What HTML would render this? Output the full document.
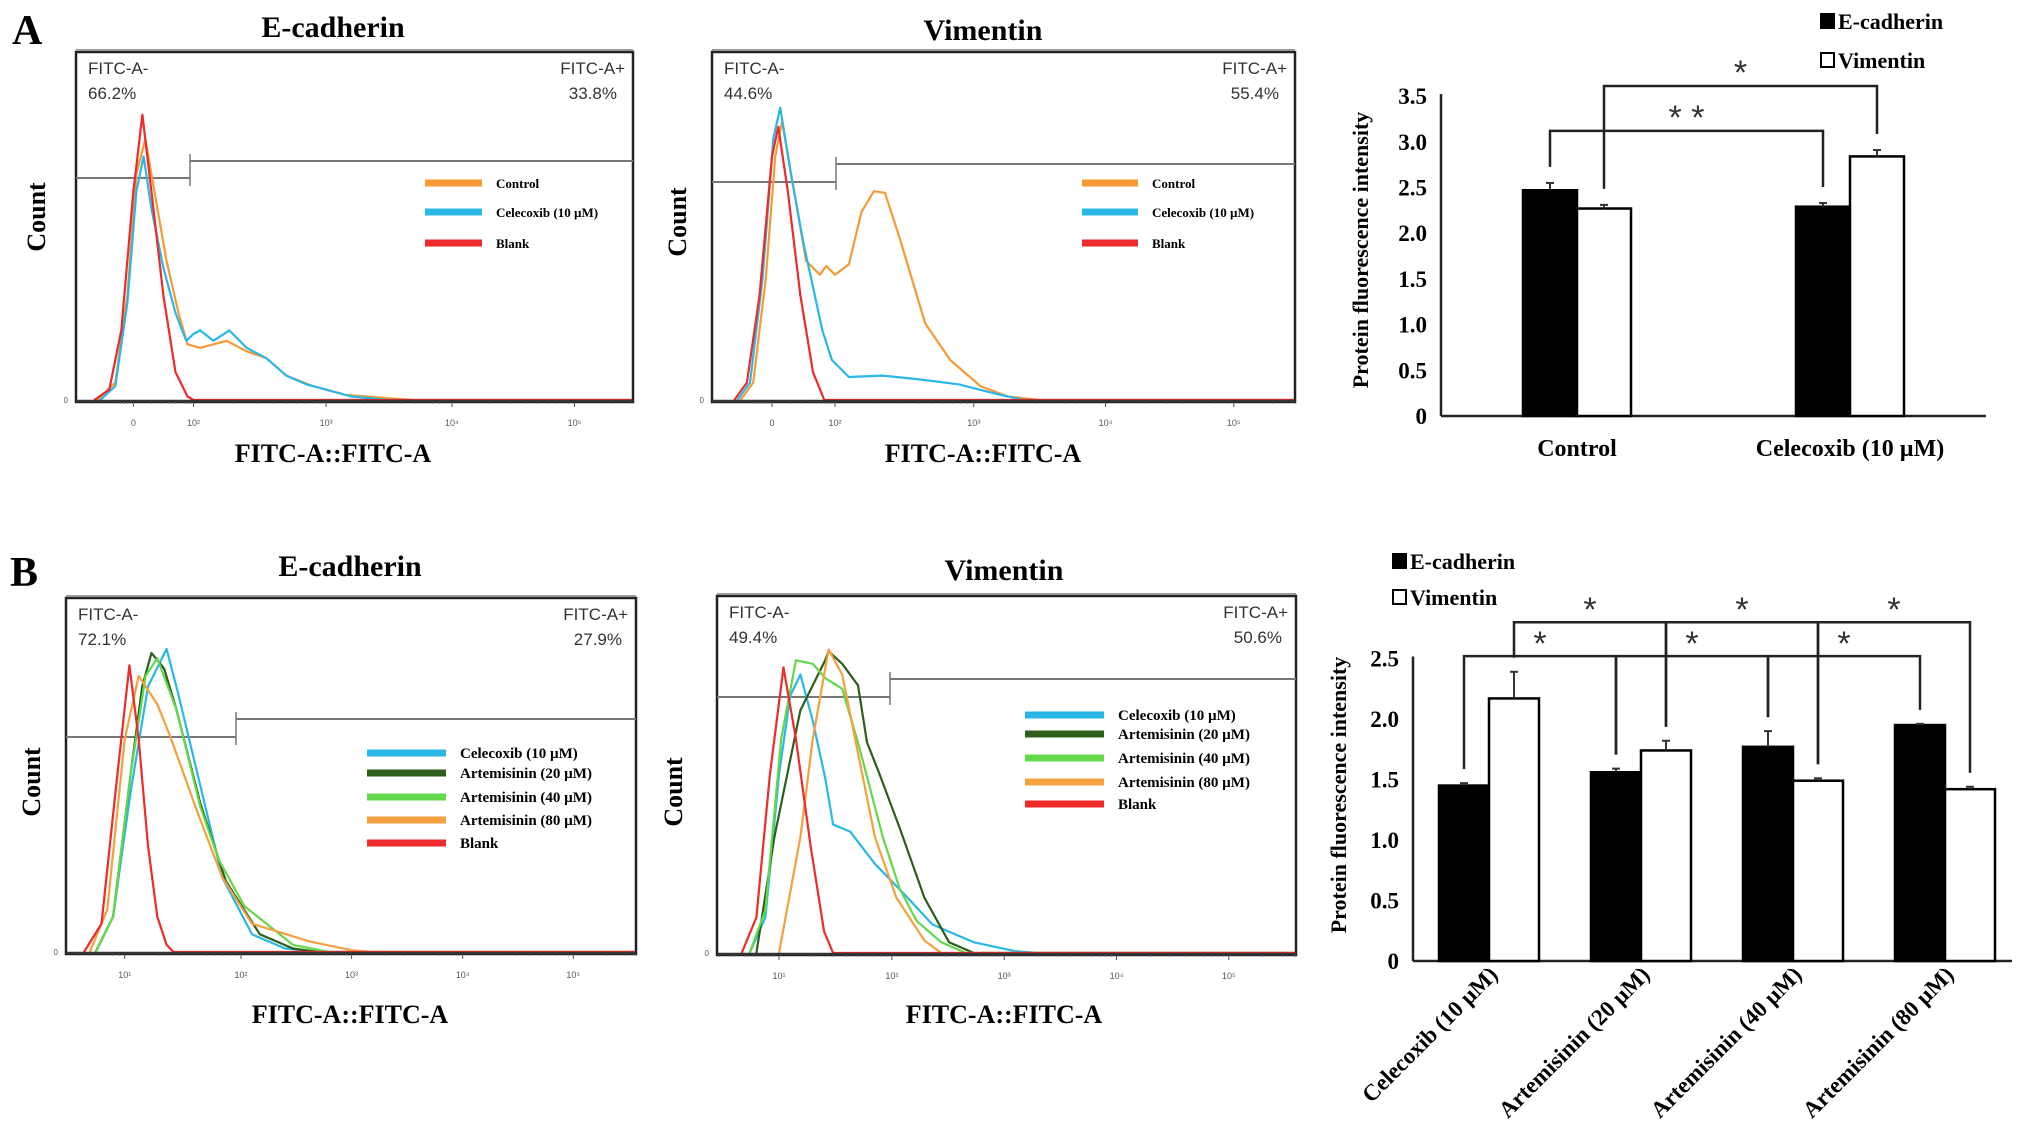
<!DOCTYPE html>
<html><head><meta charset="utf-8"><style>
html,body{margin:0;padding:0;background:#fff;}
svg{display:block;}
.serif{font-family:"Liberation Serif",serif;font-weight:bold;}
.sans{font-family:"Liberation Sans",sans-serif;}
</style></head><body>
<svg id="fig" width="2031" height="1137" viewBox="0 0 2031 1137" xmlns="http://www.w3.org/2000/svg">
<rect x="0" y="0" width="2031" height="1137" fill="#fff"/>
<text x="12" y="44" class="serif" font-size="42">A</text>
<text x="10" y="586" class="serif" font-size="42">B</text>
</svg>
<script>
// ---------- histogram data: [axis unit, relative count] ----------
const aEcadRed=[[-0.65,0],[-0.4,0.03],[-0.2,0.2],[0,0.6],[0.15,0.82],[0.3,0.6],[0.5,0.3],[0.7,0.08],[0.9,0.01],[1.0,0],[4.6,0]];
const aEcadOrange=[[-0.6,0],[-0.3,0.05],[-0.1,0.3],[0.05,0.65],[0.2,0.75],[0.35,0.6],[0.55,0.4],[0.75,0.25],[0.9,0.16],[1.05,0.15],[1.25,0.17],[1.4,0.14],[1.55,0.12],[1.7,0.07],[1.9,0.04],[2.15,0.015],[2.5,0.005],[2.7,0],[4.6,0]];
const aEcadCyan=[[-0.55,0],[-0.3,0.04],[-0.1,0.28],[0.05,0.6],[0.17,0.7],[0.3,0.55],[0.5,0.38],[0.7,0.25],[0.88,0.17],[1.0,0.19],[1.05,0.2],[1.15,0.17],[1.27,0.2],[1.4,0.15],[1.55,0.12],[1.7,0.07],[1.85,0.045],[2.0,0.03],[2.2,0.01],[2.5,0],[4.6,0]];
const aVimRed=[[-0.6,0],[-0.4,0.05],[-0.2,0.3],[0,0.7],[0.1,0.785],[0.25,0.6],[0.45,0.3],[0.65,0.08],[0.83,0],[4.6,0]];
const aVimCyan=[[-0.55,0],[-0.35,0.05],[-0.15,0.35],[0.02,0.75],[0.13,0.84],[0.3,0.65],[0.5,0.45],[0.62,0.35],[0.8,0.2],[0.95,0.115],[1.1,0.066],[1.34,0.07],[1.59,0.06],[1.89,0.045],[2.2,0.015],[2.38,0],[4.6,0]];
const aVimOrange=[[-0.5,0],[-0.3,0.05],[-0.1,0.35],[0.05,0.7],[0.16,0.8],[0.35,0.6],[0.54,0.40],[0.76,0.36],[0.86,0.385],[1.0,0.36],[1.1,0.39],[1.19,0.54],[1.28,0.60],[1.36,0.595],[1.47,0.46],[1.65,0.22],[1.83,0.115],[2.05,0.04],[2.26,0.01],[2.5,0],[4.6,0]];
const bEcadRed=[[-0.35,0],[-0.2,0.08],[-0.08,0.45],[0.04,0.81],[0.12,0.6],[0.2,0.3],[0.28,0.1],[0.36,0.02],[0.42,0],[4.6,0]];
const bEcadCyan=[[-0.25,0],[-0.1,0.1],[0.05,0.45],[0.2,0.75],[0.36,0.856],[0.46,0.73],[0.65,0.47],[0.84,0.21],[1.1,0.05],[1.4,0.01],[1.7,0],[4.6,0]];
const bEcadDark=[[-0.25,0],[-0.1,0.1],[0.05,0.5],[0.15,0.75],[0.23,0.845],[0.34,0.8],[0.44,0.69],[0.65,0.42],[0.87,0.2],[1.17,0.05],[1.47,0.01],[1.7,0],[4.6,0]];
const bEcadLight=[[-0.25,0],[-0.1,0.1],[0.05,0.5],[0.18,0.78],[0.28,0.83],[0.45,0.68],[0.65,0.41],[0.81,0.26],[1.03,0.13],[1.47,0.02],[1.8,0],[4.6,0]];
const bEcadOrange=[[-0.3,0],[-0.15,0.12],[0.0,0.6],[0.12,0.78],[0.28,0.7],[0.39,0.61],[0.62,0.40],[0.84,0.21],[1.1,0.08],[1.62,0.03],[2.0,0.005],[2.2,0],[4.6,0]];
const bVimRed=[[-0.33,0],[-0.2,0.1],[-0.08,0.5],[0.04,0.80],[0.15,0.6],[0.28,0.3],[0.4,0.06],[0.48,0],[4.6,0]];
const bVimCyan=[[-0.26,0],[-0.12,0.1],[0.0,0.5],[0.1,0.72],[0.19,0.78],[0.3,0.65],[0.41,0.49],[0.48,0.36],[0.63,0.34],[0.85,0.25],[1.14,0.155],[1.36,0.08],[1.58,0.05],[1.73,0.03],[2.1,0.005],[2.3,0],[4.6,0]];
const bVimLight=[[-0.26,0],[-0.12,0.12],[0.02,0.6],[0.15,0.82],[0.3,0.81],[0.41,0.77],[0.56,0.74],[0.7,0.59],[0.92,0.325],[1.07,0.18],[1.22,0.09],[1.44,0.03],[1.66,0],[4.6,0]];
const bVimDark=[[-0.2,0],[-0.04,0.325],[0.19,0.68],[0.41,0.82],[0.44,0.845],[0.56,0.81],[0.7,0.75],[0.78,0.59],[0.88,0.51],[1.07,0.35],[1.29,0.155],[1.51,0.03],[1.73,0],[4.6,0]];
const bVimOrange=[[0.0,0],[0.19,0.325],[0.3,0.6],[0.44,0.85],[0.56,0.78],[0.7,0.56],[0.85,0.325],[1.04,0.155],[1.29,0.035],[1.44,0],[4.6,0]];

// histogram axis ticks
const aTickLabels=["0","10²","10³","10⁴","10⁵"];
const bTickLabels=["10¹","10²","10³","10⁴","10⁵"];

// ---------- bar chart data ----------
const aCategories=["Control","Celecoxib (10 µM)"];
const aEcadValues=[2.47,2.29];
const aEcadErrors=[0.08,0.04];
const aVimValues=[2.27,2.84];
const aVimErrors=[0.04,0.07];
const aYTicks=["0","0.5","1.0","1.5","2.0","2.5","3.0","3.5"];
const aTickValues=[0,0.5,1,1.5,2,2.5,3,3.5];

const bCategories=["Celecoxib (10 µM)","Artemisinin (20 µM)","Artemisinin (40 µM)","Artemisinin (80 µM)"];
const bEcadValues=[1.45,1.56,1.77,1.95];
const bEcadErrors=[0.02,0.03,0.13,0.01];
const bVimValues=[2.17,1.74,1.49,1.42];
const bVimErrors=[0.22,0.08,0.02,0.02];
const bYTicks=["0","0.5","1.0","1.5","2.0","2.5"];
const bTickValues=[0,0.5,1,1.5,2,2.5];

const NS="http://www.w3.org/2000/svg";
const svg=document.getElementById('fig');
function mk(tag,attrs,parent,text){const e=document.createElementNS(NS,tag);for(const k in attrs)e.setAttribute(k,attrs[k]);if(text!==undefined)e.textContent=text;(parent||svg).appendChild(e);return e;}

function drawHist(cfg){
  const g=mk('g',{});
  
  
  const {x0,x1,top,base}=cfg;
  const W=x1-x0;
  function xs(u){
    const tf=cfg.tickF;let i=0;
    if(u<0)i=0;else if(u>=tf.length-1)i=tf.length-2;else i=Math.floor(u);
    const f=tf[i]+(tf[i+1]-tf[i])*(u-i);
    return Math.min(x1-1,Math.max(x0+1,x0+f*W));
  }
  function ys(h){return base-h*(base-top);}
  const t=mk('text',{x:cfg.titleX,y:cfg.titleY,'text-anchor':'middle','class':'serif','font-size':30},g,cfg.title);
  
  const bx=mk('rect',{x:x0,y:top,width:W,height:base-top+2,fill:'none',stroke:'#222','stroke-width':2.5},g);
  
  mk('line',{x1:x0,y1:top-2,x2:x1,y2:top-2,stroke:'#999','stroke-width':2},g);
  const tl=mk('text',{x:x0+12,y:top+22,'class':'sans','font-size':17,fill:'#333'},g,'FITC-A-');
  
  const tp=mk('text',{x:x0+12,y:top+47,'class':'sans','font-size':17,fill:'#333'},g,cfg.neg);
  
  const tr=mk('text',{x:x1-8,y:top+22,'class':'sans','font-size':17,fill:'#333','text-anchor':'end'},g,'FITC-A+');
  
  const trp=mk('text',{x:x1-8-(cfg.posShift||0),y:top+47,'class':'sans','font-size':17,fill:'#333','text-anchor':'end'},g,cfg.pos);
  
  const gx=cfg.gateX;
  mk('line',{x1:x0,y1:cfg.gateL,x2:gx,y2:cfg.gateL,stroke:'#777','stroke-width':2},g);
  mk('line',{x1:gx,y1:cfg.gateR,x2:x1,y2:cfg.gateR,stroke:'#777','stroke-width':2},g);
  mk('line',{x1:gx,y1:cfg.gateR-7,x2:gx,y2:cfg.gateL+8,stroke:'#777','stroke-width':1.5},g);
  for(let i=0;i<cfg.tickLabels.length;i++){
    const x=xs(i);
    const tx=mk('text',{x:x,y:base+26,'text-anchor':'middle','class':'sans','font-size':9,fill:'#555'},g,cfg.tickLabels[i]);
    
    mk('line',{x1:x,y1:base,x2:x,y2:base+7,stroke:'#555','stroke-width':1},g);
    for(let k=2;k<10;k++){const xm=xs(i+Math.log10(k));if(i<cfg.tickLabels.length-1||xm<x1)mk('line',{x1:xm,y1:base,x2:xm,y2:base+4,stroke:'#777','stroke-width':0.8},g);}
  }
  for(let k=2;k<10;k++){const xm=xs(-1+Math.log10(k));if(xm>x0+2)mk('line',{x1:xm,y1:base,x2:xm,y2:base+4,stroke:'#777','stroke-width':0.8},g);}
  mk('text',{x:x0-8,y:base+3,'class':'sans','font-size':8,fill:'#555','text-anchor':'end'},g,'0');
  cfg.series.forEach(s=>{
    const d=s.pts.map((p,i)=>(i?'L':'M')+xs(p[0]).toFixed(1)+','+ys(p[1]).toFixed(1)).join(' ');
    const p=mk('path',{d:d,fill:'none',stroke:s.color,'stroke-width':2.2,'stroke-linejoin':'round'},g);
    
    
  });
  mk('line',{x1:x0,y1:base+1,x2:x1,y2:base+1,stroke:'#333','stroke-width':2.5},g);
  cfg.series.slice().sort((a,b)=>a.li-b.li).forEach((s,i)=>{
    const y=cfg.legY[i];
    const ln=mk('line',{x1:cfg.legX,y1:y,x2:cfg.legX+cfg.legW,y2:y,stroke:s.color,'stroke-width':7},g);
    
    const lt=mk('text',{x:cfg.legX+cfg.legW+14,y:y+5,'class':'serif','font-size':cfg.legFont},g,s.label);
    
  });
  const xt=mk('text',{x:cfg.titleX,y:cfg.xTitleY,'text-anchor':'middle','class':'serif','font-size':26},g,'FITC-A::FITC-A');
  
  const yt=mk('text',{x:0,y:0,'text-anchor':'middle','class':'serif','font-size':26,transform:`translate(${cfg.countX},${cfg.countY}) rotate(-90)`},g,'Count');
  
}

const aTickF=[.103,.211,.449,.675,.895];
drawHist({name:'histogram-a-ecadherin',title:'E-cadherin',titleX:333,titleY:37,x0:76,x1:633,top:52,base:400,tickF:aTickF,tickLabels:aTickLabels,
  neg:'66.2%',pos:'33.8%',posShift:8,gateX:190,gateL:178,gateR:161,countX:45,countY:217,xTitleY:462,
  legX:425,legW:57,legY:[183,212,243],legFont:13,
  series:[{key:'control',color:'#f59a35',pts:aEcadOrange,label:'Control',li:0},{key:'celecoxib',color:'#29b8e6',pts:aEcadCyan,label:'Celecoxib (10 µM)',li:1},{key:'blank',color:'#ee2a2a',pts:aEcadRed,label:'Blank',li:2}]});
drawHist({name:'histogram-a-vimentin',title:'Vimentin',titleX:983,titleY:40,x0:712,x1:1295,top:52,base:400,tickF:aTickF,tickLabels:aTickLabels,
  neg:'44.6%',pos:'55.4%',posShift:8,gateX:836,gateL:182,gateR:164,countX:686,countY:222,xTitleY:462,
  legX:1082,legW:56,legY:[183,212,243],legFont:13,
  series:[{key:'control',color:'#f59a35',pts:aVimOrange,label:'Control',li:0},{key:'celecoxib',color:'#29b8e6',pts:aVimCyan,label:'Celecoxib (10 µM)',li:1},{key:'blank',color:'#ee2a2a',pts:aVimRed,label:'Blank',li:2}]});
const bTickF=[.103,.307,.501,.696,.89];
drawHist({name:'histogram-b-ecadherin',title:'E-cadherin',titleX:350,titleY:576,x0:66,x1:636,top:598,base:952,tickF:bTickF,tickLabels:bTickLabels,
  neg:'72.1%',pos:'27.9%',posShift:6,gateX:236,gateL:737,gateR:719,countX:40,countY:782,xTitleY:1023,
  legX:367,legW:79,legY:[753,773,797,820,843],legFont:15,
  series:[{key:'celecoxib',color:'#29b8e6',pts:bEcadCyan,label:'Celecoxib (10 µM)',li:0},{key:'art20',color:'#2d5e1c',pts:bEcadDark,label:'Artemisinin (20 µM)',li:1},{key:'art40',color:'#62d84a',pts:bEcadLight,label:'Artemisinin (40 µM)',li:2},{key:'art80',color:'#f5a040',pts:bEcadOrange,label:'Artemisinin (80 µM)',li:3},{key:'blank',color:'#ee2a2a',pts:bEcadRed,label:'Blank',li:4}]});
drawHist({name:'histogram-b-vimentin',title:'Vimentin',titleX:1004,titleY:580,x0:717,x1:1296,top:596,base:953,tickF:[.107,.302,.496,.69,.884],tickLabels:bTickLabels,
  neg:'49.4%',pos:'50.6%',posShift:6,gateX:890,gateL:697,gateR:679,countX:682,countY:792,xTitleY:1023,
  legX:1025,legW:79,legY:[715,734,758,782,804],legFont:15,
  series:[{key:'celecoxib',color:'#29b8e6',pts:bVimCyan,label:'Celecoxib (10 µM)',li:0},{key:'art20',color:'#2d5e1c',pts:bVimDark,label:'Artemisinin (20 µM)',li:1},{key:'art40',color:'#62d84a',pts:bVimLight,label:'Artemisinin (40 µM)',li:2},{key:'art80',color:'#f5a040',pts:bVimOrange,label:'Artemisinin (80 µM)',li:3},{key:'blank',color:'#ee2a2a',pts:bVimRed,label:'Blank',li:4}]});

function drawBars(cfg){
  const g=mk('g',{});
  
  
  const ys=v=>cfg.y0-v*cfg.ppu;
  const xc=i=>cfg.c0+i*cfg.step;
  mk('line',{x1:cfg.ax,y1:ys(cfg.yMax)-2,x2:cfg.ax,y2:cfg.y0,stroke:'#222','stroke-width':2.5},g);
  mk('line',{x1:cfg.ax,y1:cfg.y0,x2:cfg.axEnd,y2:cfg.y0,stroke:'#222','stroke-width':2.5},g);
  cfg.tickValues.forEach((v,i)=>{
    const t=mk('text',{x:cfg.ax-14,y:ys(v)+8,'text-anchor':'end','class':'serif','font-size':23},g,cfg.tickLabels[i]);
    
  });
  const yt=mk('text',{x:0,y:0,'text-anchor':'middle','class':'serif','font-size':22,transform:`translate(${cfg.yTitleX},${cfg.yTitleY}) rotate(-90)`},g,'Protein fluorescence intensity');
  
  const tops={E:[],V:[]};
  cfg.categories.forEach((c,i)=>{
    const cx=xc(i);
    [['E',cfg.ecad,cfg.ecadErr,'#000',-1],['V',cfg.vim,cfg.vimErr,'#fff',0]].forEach(([k,vals,errs,fill,off])=>{
      const bx=cx+off*cfg.bw;
      const r=mk('rect',{x:bx,y:ys(vals[i]),width:cfg.bw,height:vals[i]*cfg.ppu,fill:fill,stroke:'#000','stroke-width':2.5},g);
      
      
      const mx=bx+cfg.bw/2;
      const e=mk('line',{x1:mx,y1:ys(vals[i]),x2:mx,y2:ys(vals[i]+errs[i]),stroke:'#333','stroke-width':2},g);
      
      mk('line',{x1:mx-4,y1:ys(vals[i]+errs[i]),x2:mx+4,y2:ys(vals[i]+errs[i]),stroke:'#333','stroke-width':2},g);
      tops[k].push({x:mx,v:vals[i]+errs[i]});
    });
    let lb;
    if(cfg.rotate){
      lb=mk('text',{x:0,y:0,'text-anchor':'end','class':'serif','font-size':23,transform:`translate(${cx+10},${cfg.y0+15}) rotate(-45)`},g,c);
    } else {
      lb=mk('text',{x:cx,y:cfg.labelY,'text-anchor':'middle','class':'serif','font-size':24},g,c);
    }
    
  });
  cfg.brackets.forEach(b=>{
    const a=tops[b.s][b.i],z=tops[b.s][b.j];
    const yb=ys(b.level);
    const d=`M${a.x},${ys(a.v)-cfg.gap} L${a.x},${yb} L${z.x},${yb} L${z.x},${ys(z.v)-cfg.gap}`;
    const p=mk('path',{d:d,fill:'none',stroke:'#222','stroke-width':2.5},g);
    
    const st=mk('text',{x:(a.x+z.x)/2,y:yb-b.starDy,'text-anchor':'middle','class':'sans','font-size':34,fill:'#333'},g,b.star);
    
  });
  cfg.legend.forEach((l,i)=>{
    const r=mk('rect',{x:cfg.legX,y:cfg.legY[i]-8,width:13,height:14,fill:l.fill,stroke:'#000','stroke-width':2},g);
    
    const t=mk('text',{x:cfg.legX+17,y:cfg.legY[i]+7,'class':'serif','font-size':22},g,l.label);
    
  });
}

drawBars({name:'bar-chart-a',categories:aCategories,ecad:aEcadValues,ecadErr:aEcadErrors,vim:aVimValues,vimErr:aVimErrors,
  tickValues:aTickValues,tickLabels:aYTicks,yMax:3.5,y0:416,ppu:91.4,ax:1441,axEnd:1986,c0:1577,step:273,bw:54,
  yTitleX:1368,yTitleY:250,labelY:456,rotate:false,gap:16,
  brackets:[{s:'E',i:0,j:1,level:3.12,star:'* *',starDy:2},{s:'V',i:0,j:1,level:3.61,star:'*',starDy:2}],
  legX:1821,legY:[22,61],legend:[{fill:'#000',label:'E-cadherin'},{fill:'#fff',label:'Vimentin'}]});
drawBars({name:'bar-chart-b',categories:bCategories,ecad:bEcadValues,ecadErr:bEcadErrors,vim:bVimValues,vimErr:bVimErrors,
  tickValues:bTickValues,tickLabels:bYTicks,yMax:2.5,y0:961,ppu:121,ax:1413,axEnd:2012,c0:1489,step:152,bw:50,
  yTitleX:1346,yTitleY:795,labelY:0,rotate:true,gap:14,
  brackets:[{s:'E',i:0,j:1,level:2.52,star:'*',starDy:1},{s:'E',i:1,j:2,level:2.52,star:'*',starDy:1},{s:'E',i:2,j:3,level:2.52,star:'*',starDy:1},
            {s:'V',i:0,j:1,level:2.8,star:'*',starDy:1},{s:'V',i:1,j:2,level:2.8,star:'*',starDy:1},{s:'V',i:2,j:3,level:2.8,star:'*',starDy:1}],
  legX:1393,legY:[562,598],legend:[{fill:'#000',label:'E-cadherin'},{fill:'#fff',label:'Vimentin'}]});
</script>
</body></html>
